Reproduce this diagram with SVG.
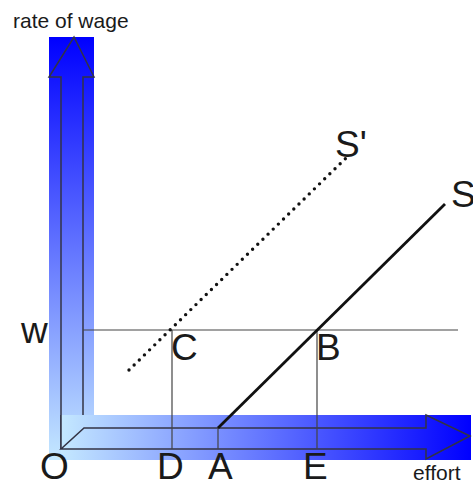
<svg xmlns="http://www.w3.org/2000/svg" width="473" height="483" viewBox="0 0 473 483">
<defs>
<linearGradient id="gv" x1="0" y1="37" x2="0" y2="460" gradientUnits="userSpaceOnUse">
<stop offset="0" stop-color="#0000ff"/>
<stop offset="1" stop-color="#c4e8ff"/>
</linearGradient>
<linearGradient id="gh" x1="61" y1="0" x2="471" y2="0" gradientUnits="userSpaceOnUse">
<stop offset="0" stop-color="#c4e8ff"/>
<stop offset="1" stop-color="#0000ff"/>
</linearGradient>
</defs>
<style>
.ol{fill:none;stroke:#333344;stroke-width:1.5;stroke-linejoin:miter}
.thin{fill:none;stroke:#444;stroke-width:1.2}
.big{font-family:"Liberation Sans",Arial,sans-serif;font-size:37px;fill:#1a1a1a}
.small{font-family:"Liberation Sans",Arial,sans-serif;font-size:21px;fill:#1a1a1a}
</style>
<rect width="473" height="483" fill="#ffffff"/>
<g id="axis-y">
<rect x="49" y="37" width="45" height="423" fill="url(#gv)"/>
<path class="ol" d="M61,449 L61,77 L49,77 L74,37 L94,77 L83,77 L83,415"/>
</g>
<g id="axis-x">
<rect x="61" y="415" width="410" height="45" fill="url(#gh)"/>
<path class="ol" d="M61,449 L426,449 L426,459 L470,436 L426,415 L426,428 L84,428 Z"/>
<line class="ol" x1="61" y1="415" x2="61" y2="449"/>
</g>
<g id="connectors">
<line class="thin" x1="83" y1="330" x2="458" y2="330"/>
<line class="thin" x1="172" y1="330" x2="172" y2="449" stroke="#777"/>
<line class="thin" x1="317" y1="330" x2="317" y2="449"/>
<line class="thin" x1="218" y1="428" x2="218" y2="449"/>
<line x1="218" y1="428" x2="445" y2="204" stroke="#111" stroke-width="2.8"/>
<line x1="129" y1="370" x2="346" y2="158" stroke="#111" stroke-width="3.4" stroke-linecap="round" stroke-dasharray="0 7.2"/>
</g>
<g id="labels">
<text class="small" x="13" y="28">rate of wage</text>
<text class="small" x="413" y="480" font-size="20.5">effort</text>
<text class="big" x="21" y="343">w</text>
<text class="big" x="171" y="360">C</text>
<text class="big" x="316" y="360">B</text>
<text class="big" x="40" y="479">O</text>
<text class="big" x="157" y="479">D</text>
<text class="big" x="208" y="479">A</text>
<text class="big" x="303" y="479">E</text>
<text class="big" x="335" y="157">S'</text>
<text class="big" x="451" y="207">S</text>
</g>
</svg>
